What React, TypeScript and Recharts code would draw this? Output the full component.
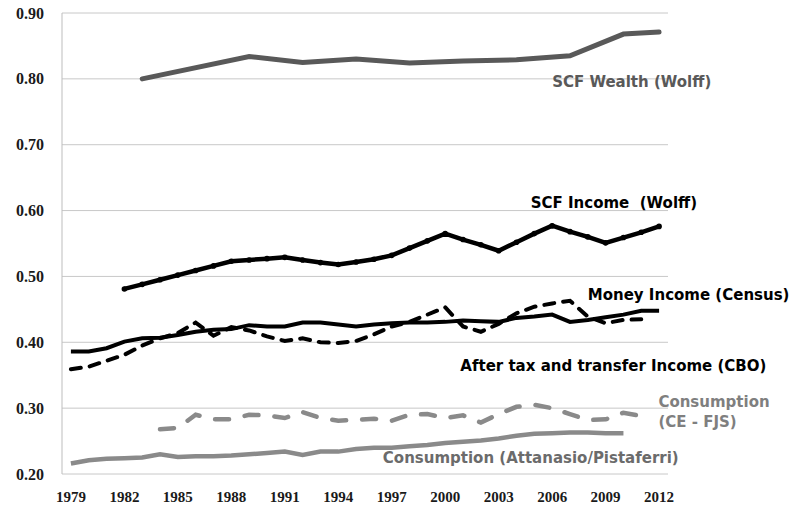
import React from "react";
import {
  LineChart,
  Line,
  XAxis,
  YAxis,
  CartesianGrid,
  ReferenceDot,
} from "recharts";

// years on the category axis
const firstYear = 1979;
const lastYear = 2012;
const xTicks = [1979, 1982, 1985, 1988, 1991, 1994, 1997, 2000, 2003, 2006, 2009, 2012];
const yTicks = [0.2, 0.3, 0.4, 0.5, 0.6, 0.7, 0.8, 0.9];

// SCF Wealth (Wolff) — survey years only
const wealthYears = [1983, 1989, 1992, 1995, 1998, 2001, 2004, 2007, 2010, 2012];
const wealthValues = [0.8, 0.834, 0.825, 0.83, 0.824, 0.827, 0.829, 0.835, 0.868, 0.871];

// SCF Income (Wolff), from 1982
const scfIncomeStart = 1982;
const scfIncome = [
  0.481, 0.488, 0.495, 0.502, 0.509, 0.516, 0.523, 0.525, 0.527, 0.529, 0.525,
  0.521, 0.518, 0.522, 0.526, 0.532, 0.543, 0.554, 0.565, 0.556, 0.548, 0.539,
  0.552, 0.565, 0.577, 0.568, 0.56, 0.551, 0.559, 0.567, 0.576,
];

// Money Income (Census), from 1979
const moneyStart = 1979;
const moneyIncome = [
  0.386, 0.386, 0.391, 0.401, 0.406, 0.407, 0.411, 0.416, 0.419, 0.42, 0.426,
  0.424, 0.424, 0.43, 0.43, 0.427, 0.424, 0.427, 0.429, 0.43, 0.43, 0.431,
  0.433, 0.432, 0.431, 0.437, 0.439, 0.442, 0.431, 0.434, 0.438, 0.442, 0.448,
  0.448,
];

// After tax and transfer Income (CBO), from 1979
const cboStart = 1979;
const cboIncome = [
  0.359, 0.363, 0.372, 0.381, 0.395, 0.406, 0.414, 0.43, 0.41, 0.423, 0.418,
  0.409, 0.402, 0.406, 0.4, 0.399, 0.402, 0.412, 0.424, 0.431, 0.442, 0.453,
  0.424, 0.416, 0.428, 0.444, 0.454, 0.459, 0.463, 0.439, 0.429, 0.434, 0.435,
];

// Consumption (CE - FJS), from 1984
const ceStart = 1984;
const ceConsumption = [
  0.268, 0.27, 0.29, 0.283, 0.283, 0.29, 0.289, 0.285, 0.294, 0.285, 0.281,
  0.282, 0.284, 0.281, 0.29, 0.291, 0.285, 0.289, 0.278, 0.291, 0.302, 0.305,
  0.3, 0.291, 0.282, 0.283, 0.293, 0.288,
];

// Consumption (Attanasio/Pistaferri), from 1979
const apStart = 1979;
const apConsumption = [
  0.216, 0.221, 0.223, 0.224, 0.225, 0.23, 0.226, 0.227, 0.227, 0.228, 0.23,
  0.232, 0.234, 0.229, 0.234, 0.234, 0.238, 0.24, 0.24, 0.242, 0.244, 0.247,
  0.249, 0.251, 0.254, 0.258, 0.261, 0.262, 0.263, 0.263, 0.262, 0.262,
];

// series labels: anchor (year, value), text, colour
const labels = [
  { x: 2006.0, y: 0.795, lines: ["SCF Wealth (Wolff)"], color: "#595959" },
  { x: 2004.8, y: 0.612, lines: ["SCF Income  (Wolff)"], color: "#000" },
  { x: 2008.0, y: 0.472, lines: ["Money Income (Census)"], color: "#000" },
  { x: 2000.85, y: 0.364, lines: ["After tax and transfer Income (CBO)"], color: "#000" },
  { x: 2011.96, y: 0.31, lines: ["Consumption", "(CE - FJS)"], color: "#7f7f7f" },
  { x: 1996.5, y: 0.2243, lines: ["Consumption (Attanasio/Pistaferri)"], color: "#6b6b6b" },
];

const data: Record<string, number | null>[] = [];
for (let yr = firstYear; yr <= lastYear; yr++) {
  const pick = (arr: number[], start: number) =>
    yr - start >= 0 && yr - start < arr.length ? arr[yr - start] : null;
  const wi = wealthYears.indexOf(yr);
  data.push({
    year: yr,
    wealth: wi >= 0 ? wealthValues[wi] : null,
    scf: pick(scfIncome, scfIncomeStart),
    money: pick(moneyIncome, moneyStart),
    cbo: pick(cboIncome, cboStart),
    ce: pick(ceConsumption, ceStart),
    ap: pick(apConsumption, apStart),
  });
}

const tickFont = "'Liberation Serif', 'DejaVu Serif', serif";
const labelFont = "'DejaVu Sans', Verdana, sans-serif";

const YTick = (p: any) => (
  <text
    x={p.x}
    y={p.y}
    textAnchor="end"
    dominantBaseline="central"
    fontFamily={tickFont}
    fontWeight="bold"
    fontSize={16}
    fill="#1a1a1a"
  >
    {Number(p.payload.value).toFixed(2)}
  </text>
);

const XTick = (p: any) => (
  <text
    x={p.x}
    y={p.y}
    textAnchor="middle"
    dominantBaseline="central"
    fontFamily={tickFont}
    fontWeight="bold"
    fontSize={15}
    fill="#1a1a1a"
  >
    {p.payload.value}
  </text>
);

const seriesLabel = (lines: string[], color: string) => (p: any) => (
  <text
    x={p.cx}
    y={p.cy}
    fontFamily={labelFont}
    fontWeight="bold"
    fontSize={15}
    fill={color}
    dominantBaseline="central"
  >
    {lines.map((t, i) => (
      <tspan key={i} x={p.cx} dy={i === 0 ? 0 : 20.5} style={{ whiteSpace: "pre" }}>
        {t}
      </tspan>
    ))}
  </text>
);

export default function App() {
  return (
    <div style={{ position: "absolute", left: 0, top: 0, background: "#fff" }}>
      <LineChart
        width={800}
        height={515}
        data={data}
        margin={{ top: 13, right: 132, bottom: 0, left: 0 }}
      >
        <CartesianGrid stroke="#c8c8c8" vertical={false} />
        <XAxis
          dataKey="year"
          type="number"
          domain={[firstYear - 0.5, lastYear + 0.5]}
          ticks={xTicks}
          tick={<XTick />}
          tickLine={false}
          axisLine={false}
          tickMargin={17}
          height={41}
          interval={0}
        />
        <YAxis
          domain={[0.2, 0.9]}
          ticks={yTicks}
          tick={<YTick />}
          tickLine={false}
          axisLine={{ stroke: "#bdbdbd" }}
          tickMargin={12}
          width={62}
          interval={0}
        />
        <Line
          dataKey="ap"
          stroke="#8a8a8a"
          strokeWidth={4.5}
          dot={false}
          connectNulls
          isAnimationActive={false}
        />
        <Line
          dataKey="ce"
          stroke="#8a8a8a"
          strokeWidth={4.5}
          strokeDasharray="14 16"
          strokeLinecap="round"
          dot={false}
          connectNulls
          isAnimationActive={false}
        />
        <Line
          dataKey="money"
          stroke="#000"
          strokeWidth={4}
          dot={false}
          connectNulls
          isAnimationActive={false}
        />
        <Line
          dataKey="cbo"
          stroke="#000"
          strokeWidth={4}
          strokeDasharray="10 9"
          strokeLinecap="round"
          dot={false}
          connectNulls
          isAnimationActive={false}
        />
        <Line
          dataKey="scf"
          stroke="#000"
          strokeWidth={4.5}
          dot={{ r: 2.8, fill: "#000", stroke: "none" }}
          connectNulls
          isAnimationActive={false}
        />
        <Line
          dataKey="wealth"
          stroke="#595959"
          strokeWidth={5}
          strokeLinecap="round"
          dot={false}
          connectNulls
          isAnimationActive={false}
        />
        {labels.map((l, i) => (
          <ReferenceDot
            key={i}
            x={l.x}
            y={l.y}
            r={0}
            ifOverflow="visible"
            shape={seriesLabel(l.lines, l.color)}
          />
        ))}
      </LineChart>
    </div>
  );
}
